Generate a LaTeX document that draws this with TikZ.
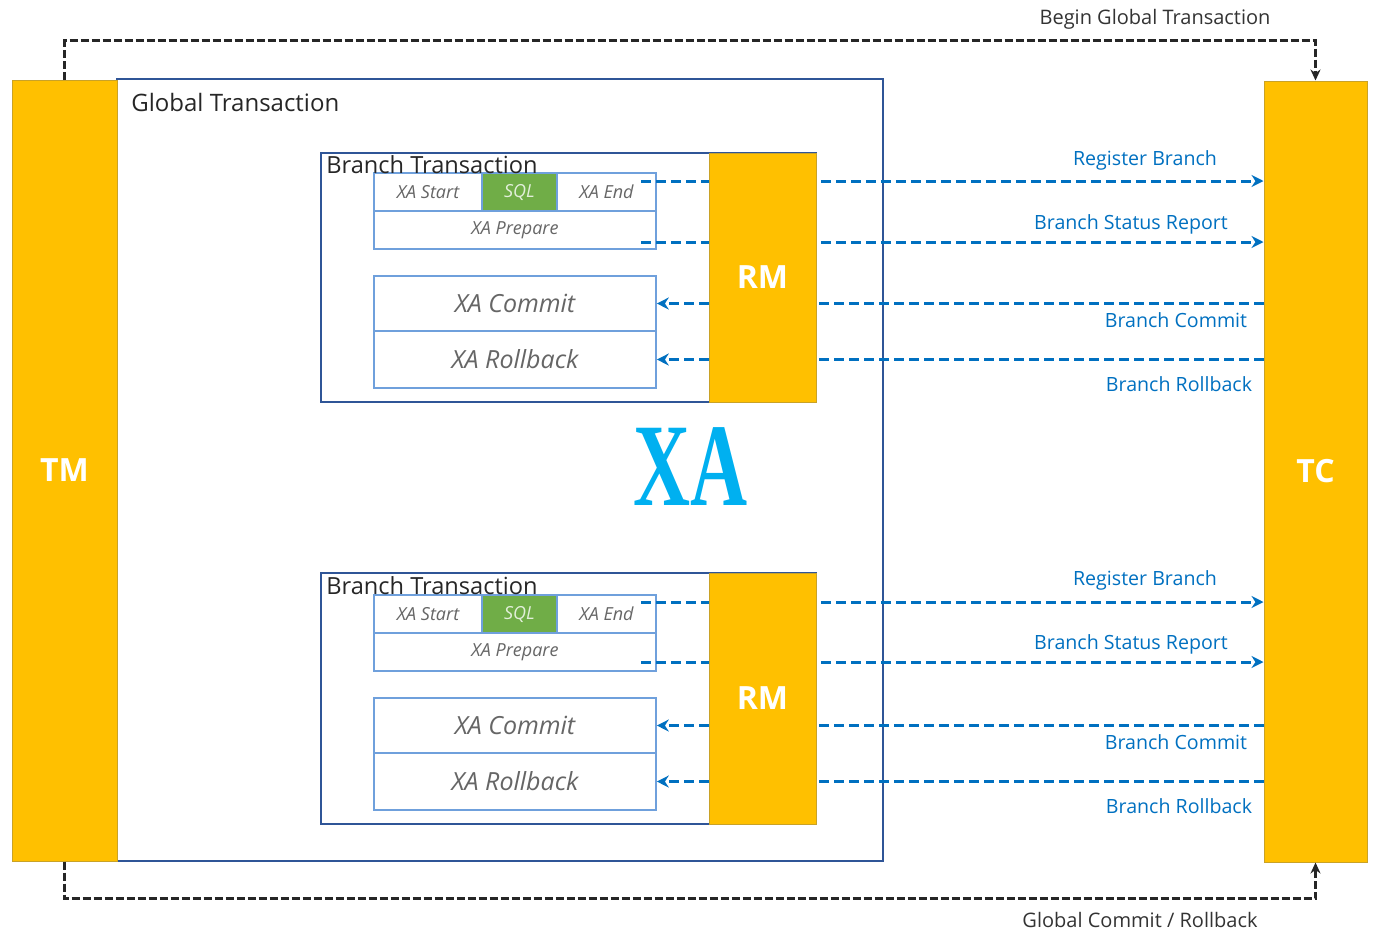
\documentclass[tikz,border=0pt]{standalone}
\usepackage{fontspec}
\setmainfont{Open Sans}
\newfontfamily\xafont{Liberation Serif}
\usepackage{graphicx}
\usetikzlibrary{arrows.meta, positioning, calc}
\usepackage{xcolor}
\definecolor{gold}{HTML}{FFC000}
\definecolor{golddark}{HTML}{C9A227}
\definecolor{navy}{HTML}{2F5597}
\definecolor{paleblue}{HTML}{6FA0DC}
\definecolor{leafgreen}{HTML}{70AD47}
\definecolor{linkblue}{HTML}{0070C0}
\definecolor{xacyan}{HTML}{00B0F0}

\begin{document}
\begin{tikzpicture}[x=0.5pt, y=-0.5pt,
    party/.style={rectangle, draw=golddark, fill=gold, line width=0.5pt, inner sep=0pt, text=white, font=\fontsize{16}{16}\selectfont\bfseries},
    frame/.style={rectangle, draw=navy, line width=0.7pt, inner sep=0pt},
    cell/.style={rectangle, draw=paleblue, fill=white, line width=0.8pt, inner sep=0pt, text=black!60, font=\fontsize{9}{9}\selectfont\itshape},
    bigcell/.style={cell, font=\fontsize{12.5}{13}\selectfont\itshape},
    title/.style={anchor=west, inner sep=0pt, text=black!85, font=\fontsize{12}{12}\selectfont},
    msg/.style={dash pattern=on 5pt off 2.5pt, line width=1.5pt, draw=linkblue, -{Stealth[length=6pt,width=6pt]}},
    msg_label/.style={text=linkblue, inner sep=0pt, font=\fontsize{9.8}{10}\selectfont},
    globalflow/.style={dash pattern=on 4pt off 1.5pt, line width=1.5pt, draw=black!85, -{Stealth[length=5.5pt,width=5pt]}},
    flow_label/.style={text=black!80, inner sep=0pt, font=\fontsize{10}{10}\selectfont}
]
\useasboundingbox (0,0) rectangle (1386,944);

\node[frame, minimum width=383pt, minimum height=391pt] (global) at (500,470) {};
\node[title] (globallabel) at (131,102) {Global Transaction};
\node[party, minimum width=52.5pt, minimum height=390.5pt] (tm) at (64.5,470.5) {TM};
\node[party, minimum width=51.5pt, minimum height=390.5pt] (tc) at (1315.5,471.5) {TC};

\node[frame, minimum width=247.5pt, minimum height=124.5pt] (branch1) at (568.5,277.5) {};
\node[cell, minimum width=54pt, minimum height=19pt] (xastart1) at (428,192) {XA Start};
\node[cell, fill=leafgreen, text=white!80!leafgreen, minimum width=37.5pt, minimum height=19pt] (sql1) at (519.5,192) {SQL};
\node[cell, minimum width=49.5pt, minimum height=19pt] (xaend1) at (606.5,192) {XA End};
\node[cell, minimum width=141pt, minimum height=19pt] (prepare1) at (515,230) {XA Prepare};
\node[bigcell, minimum width=141pt, minimum height=27.5pt] (commit1) at (515,303.5) {XA Commit};
\node[bigcell, minimum width=141pt, minimum height=28.5pt] (rollback1) at (515,359.5) {XA Rollback};
\node[title, font=\fontsize{11.8}{12}\selectfont] (branchlabel1) at (326,165) {Branch Transaction};
\coordinate (register1) at (641,181);
\coordinate (report1) at (641,242);

\draw[msg] (register1) -- (tc.west |- register1);
\draw[msg] (report1) -- (tc.west |- report1);
\draw[msg] (tc.west |- commit1.east) -- (commit1.east);
\draw[msg] (tc.west |- rollback1.east) -- (rollback1.east);
\node[party, minimum width=53.5pt, minimum height=124.5pt] (rm1) at (762.5,277.5) {RM};

\node[msg_label] (registerlabel1) at (1145,160) {Register Branch};
\node[msg_label] (reportlabel1) at (1131,224) {Branch Status Report};
\node[msg_label] (commitlabel1) at (1176,320) {Branch Commit};
\node[msg_label] (rollbacklabel1) at (1179,384) {Branch Rollback};

\node[frame, minimum width=247.5pt, minimum height=125.5pt] (branch2) at (568.5,698.5) {};
\node[cell, minimum width=54pt, minimum height=19pt] (xastart2) at (428,614) {XA Start};
\node[cell, fill=leafgreen, text=white!80!leafgreen, minimum width=37.5pt, minimum height=19pt] (sql2) at (519.5,614) {SQL};
\node[cell, minimum width=49.5pt, minimum height=19pt] (xaend2) at (606.5,614) {XA End};
\node[cell, minimum width=141pt, minimum height=19pt] (prepare2) at (515,652) {XA Prepare};
\node[bigcell, minimum width=141pt, minimum height=27.5pt] (commit2) at (515,725.5) {XA Commit};
\node[bigcell, minimum width=141pt, minimum height=28.5pt] (rollback2) at (515,781.5) {XA Rollback};
\node[title, font=\fontsize{11.8}{12}\selectfont] (branchlabel2) at (326,586) {Branch Transaction};
\coordinate (register2) at (641,602);
\coordinate (report2) at (641,662);

\draw[msg] (register2) -- (tc.west |- register2);
\draw[msg] (report2) -- (tc.west |- report2);
\draw[msg] (tc.west |- commit2.east) -- (commit2.east);
\draw[msg] (tc.west |- rollback2.east) -- (rollback2.east);
\node[party, minimum width=53.5pt, minimum height=125.5pt] (rm2) at (762.5,698.5) {RM};

\node[msg_label] (registerlabel2) at (1145,580) {Register Branch};
\node[msg_label] (reportlabel2) at (1131,644) {Branch Status Report};
\node[msg_label] (commitlabel2) at (1176,742) {Branch Commit};
\node[msg_label] (rollbacklabel2) at (1179,806) {Branch Rollback};

\node[text=xacyan, inner sep=0pt] (xa) at (691,467) {\scalebox{0.67}[1]{\xafont\bfseries\fontsize{59}{59}\selectfont XA}};

\draw[globalflow] (tm.north) -- ++(0,-39) -| (tc.north);
\draw[globalflow] (tm.south) -- ++(0,37) -| (tc.south);
\node[flow_label] (beginlabel) at (1155,19) {Begin Global Transaction};
\node[flow_label] (endlabel) at (1140,920) {Global Commit / Rollback};

\end{tikzpicture}
\end{document}
